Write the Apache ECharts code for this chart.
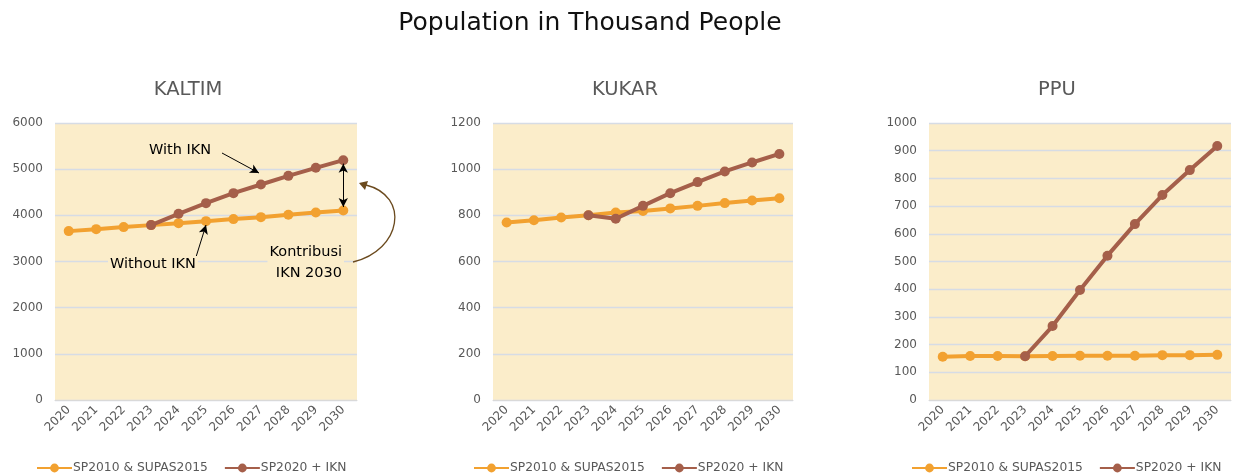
<!DOCTYPE html>
<html><head><meta charset="utf-8">
<script src="https://cdn.jsdelivr.net/npm/echarts@6/dist/echarts.min.js"></script>
<style>html,body{margin:0;padding:0;background:#fff}#c{width:1238px;height:475px}</style>
</head><body><div id="c"></div>
<script>
const years = ['2020','2021','2022','2023','2024','2025','2026','2027','2028','2029','2030'];
const seriesNames = ['SP2010 & SUPAS2015', 'SP2020 + IKN'];
const panelTitles = ['KALTIM', 'KUKAR', 'PPU'];
const kaltimBase = [3658, 3701, 3745, 3788, 3831, 3874, 3918, 3961, 4011, 4062, 4106];
const kaltimIkn  = [null, null, null, 3788, 4033, 4264, 4481, 4668, 4855, 5029, 5195];
const kukarBase  = [769, 779, 791, 800, 812, 819, 830, 841, 853, 864, 874];
const kukarIkn   = [null, null, null, 800, 785, 841, 896, 944, 990, 1029, 1066];
const ppuBase    = [156, 159, 159, 158, 159, 160, 160, 160, 162, 162, 163];
const ppuIkn     = [null, null, null, 158, 267, 397, 521, 635, 740, 830, 917];
const yMax = [6000, 1200, 1000];
const yStep = [1000, 200, 100];

const FONT = 'DejaVu Sans';
const GRAY = '#595959';
const ORANGE = '#F2A130';
const BROWN = '#A55F4A';
const BG = '#FBEDCA';

const grids = [
  {left: 55, top: 123, width: 302, height: 277},
  {left: 493, top: 123, width: 300, height: 277},
  {left: 929, top: 123, width: 302, height: 277}
];
const titleX = [188, 625, 1057];
const legendX = [31, 468, 906];
const data = [[kaltimBase, kaltimIkn],[kukarBase, kukarIkn],[ppuBase, ppuIkn]];

const option = {
  backgroundColor: '#fff',
  animation: false,
  textStyle: {fontFamily: FONT},
  grid: grids.map(g => Object.assign({show: true, backgroundColor: BG, borderWidth: 0, containLabel: false}, g)),
  legend: legendX.map((x, i) => ({
    left: x, top: 457, itemWidth: 35, itemHeight: 11, itemGap: 16, selectedMode: false,
    data: seriesNames, textStyle: {fontFamily: FONT, fontSize: 12.3, color: GRAY, padding: [0,0,0,-4]}
  })),
  xAxis: grids.map((g, i) => ({
    type: 'category', gridIndex: i, data: years, boundaryGap: true,
    axisLine: {show: true, lineStyle: {color: '#D9D9D9', width: 1}},
    axisTick: {show: false},
    axisLabel: {rotate: 45, color: GRAY, fontSize: 12, fontFamily: FONT, margin: 8}
  })),
  yAxis: grids.map((g, i) => ({
    type: 'value', gridIndex: i, min: 0, max: yMax[i], interval: yStep[i],
    axisLine: {show: false}, axisTick: {show: false},
    splitLine: {lineStyle: {color: '#D6DCE5', width: 1.3}},
    axisLabel: {color: GRAY, fontSize: 12, fontFamily: FONT, margin: 12, formatter: v => String(v)}
  })),
  series: []
};

data.forEach((pair, i) => {
  pair.forEach((vals, k) => {
    const s = {
      name: seriesNames[k], type: 'line', xAxisIndex: i, yAxisIndex: i, data: vals,
      symbol: 'circle', symbolSize: 10, z: 3 + k,
      lineStyle: {color: k ? BROWN : ORANGE, width: 4},
      itemStyle: {color: k ? BROWN : ORANGE}
    };
    if (i === 0 && k === 1) {
      s.markLine = {
        silent: true, animation: false,
        label: {show: false},
        lineStyle: {color: '#000', width: 1, type: 'solid'},
        symbolSize: [7, 9],
        data: [
          [{coord: ['2030', 5120], symbol: 'arrow'}, {coord: ['2030', 4180], symbol: 'arrow'}],
          [{x: 222, y: 153, symbol: 'none'}, {x: 259, y: 173, symbol: 'arrow'}],
          [{x: 196, y: 257, symbol: 'none'}, {x: 206, y: 225, symbol: 'arrow'}]
        ]
      };
    }
    option.series.push(s);
  });
});

const ANN = '14.5px "DejaVu Sans"';
option.graphic = [
  {type: 'text', x: 590, y: 11, style: {text: 'Population in Thousand People', font: '25px "DejaVu Sans"', fill: '#111', align: 'center'}},
  ...panelTitles.map((t, i) => ({type: 'text', x: titleX[i], y: 80, style: {text: t, font: '19.5px "DejaVu Sans"', fill: GRAY, align: 'center'}})),
  {type: 'text', x: 147, y: 142, z: 20, style: {text: 'With IKN', font: ANN, fill: '#000', backgroundColor: BG, padding: [1, 2]}},
  {type: 'text', x: 108, y: 256, z: 20, style: {text: 'Without IKN', font: ANN, fill: '#000', backgroundColor: BG, padding: [1, 2]}},
  {type: 'text', x: 344, y: 241, z: 20, style: {text: 'Kontribusi\nIKN 2030', font: ANN, fill: '#000', align: 'right', lineHeight: 21, backgroundColor: BG, padding: [1, 2]}},
  {type: 'bezierCurve', shape: {x1: 353, y1: 262, cpx1: 402, cpy1: 250, cpx2: 410, cpy2: 196, x2: 366, y2: 185},
    style: {stroke: '#6B4A1E', lineWidth: 1.3, fill: null}, z: 10},
  {type: 'polygon', shape: {points: [[359, 183], [368, 181], [365, 190]]}, style: {fill: '#6B4A1E'}, z: 10}
];

const chart = echarts.init(document.getElementById('c'));
chart.setOption(option);
</script></body></html>
